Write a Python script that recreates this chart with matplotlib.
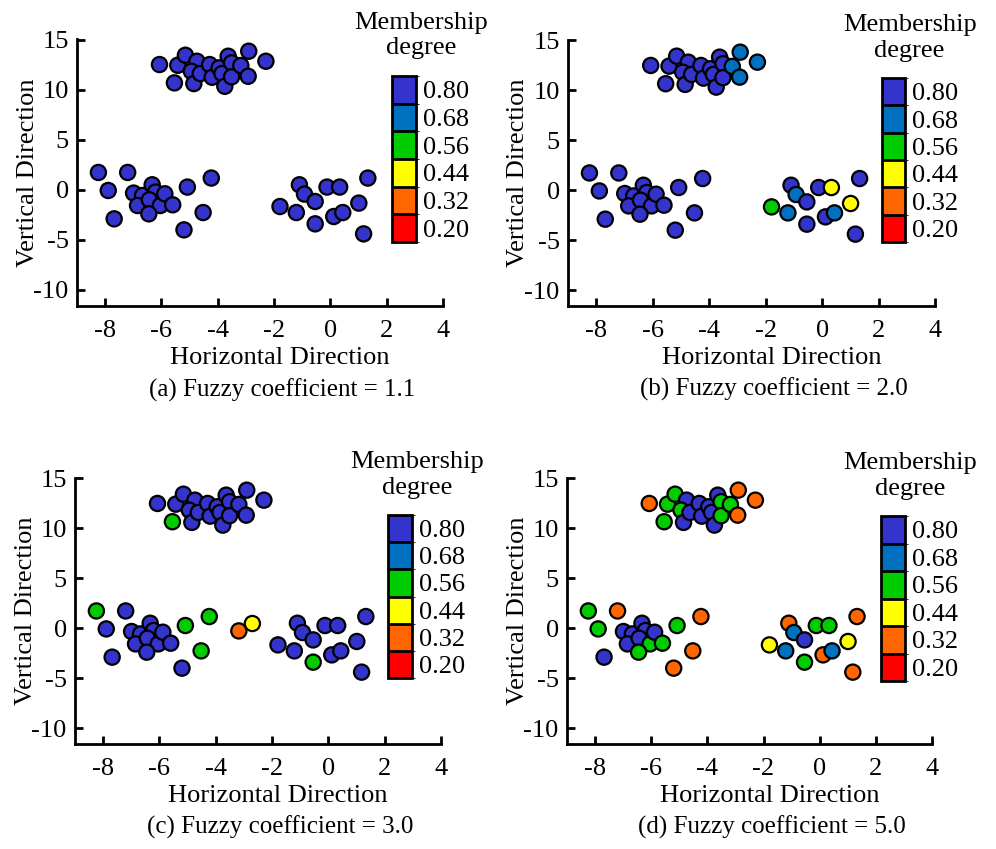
import numpy as np
import matplotlib
matplotlib.use("Agg")
import matplotlib.pyplot as plt
from matplotlib.colors import ListedColormap, BoundaryNorm
from matplotlib.cm import ScalarMappable

plt.rcParams["font.family"] = ["Liberation Serif", "DejaVu Serif"]
plt.rcParams["axes.unicode_minus"] = False

# sample positions (shared by all panels)
top_x = [-6.07, -5.42, -5.15, -4.74, -4.94, -5.54, -4.85, -4.62, -4.29, -4.20,
         -3.95, -3.85, -3.75, -3.63, -3.51, -3.51, -3.18, -2.92, -2.90, -2.29]
top_y = [12.50, 12.43, 13.43, 12.83, 11.83, 10.67, 10.60, 11.60, 12.50, 11.23,
         12.17, 11.60, 10.33, 13.33, 12.67, 11.27, 12.40, 11.33, 13.83, 12.83]
left_x = [-8.24, -7.89, -7.20, -7.68, -6.99, -6.67, -6.85, -6.33, -6.21, -6.43,
          -6.04, -5.88, -5.60, -6.45, -5.08, -4.23, -4.52, -5.20]
left_y = [1.73, -0.07, 1.73, -2.90, -0.33, -0.57, -1.57, 0.50, -0.23, -1.00,
          -1.57, -0.40, -1.50, -2.40, 0.27, 1.17, -2.27, -4.00]
right_x = [-1.79, -1.21, -1.10, -0.92, -0.54, -0.54, -0.12, 0.33, 0.12, 0.44,
           1.01, 1.33, 1.18]
right_y = [-1.67, -2.27, 0.50, -0.43, -1.17, -3.40, 0.27, 0.27, -2.67, -2.27,
           -1.33, 1.17, -4.40]
# two extra samples only shown in panel (c)
extra_x = [-3.18, -2.70]
extra_y = [-0.27, 0.47]

# membership degree per point (top, left, right)
mem_a = [0.80] * 20 + [0.80] * 18 + [0.80] * 13
mem_b = ([0.80] * 16 + [0.68] * 4
         + [0.80] * 18
         + [0.56, 0.68, 0.80, 0.68, 0.80, 0.80, 0.80, 0.44, 0.80, 0.68, 0.44, 0.80, 0.80])
mem_c = ([0.80] * 5 + [0.56] + [0.80] * 14
         + [0.56] + [0.80] * 13 + [0.56, 0.56, 0.56, 0.80]
         + [0.80] * 5 + [0.56] + [0.80] * 7
         + [0.32, 0.44])
mem_d = ([0.32, 0.56, 0.56, 0.80, 0.56, 0.56, 0.80, 0.80, 0.80, 0.80,
          0.80, 0.80, 0.80, 0.80, 0.56, 0.56, 0.56, 0.32, 0.32, 0.32]
         + [0.56, 0.56, 0.32, 0.80, 0.80, 0.80, 0.80, 0.80, 0.80, 0.80,
            0.56, 0.80, 0.56, 0.56, 0.56, 0.32, 0.32, 0.32]
         + [0.44, 0.68, 0.32, 0.68, 0.80, 0.56, 0.56, 0.56, 0.32, 0.68,
            0.44, 0.32, 0.32])

captions = ["(a) Fuzzy coefficient = 1.1", "(b) Fuzzy coefficient = 2.0",
            "(c) Fuzzy coefficient = 3.0", "(d) Fuzzy coefficient = 5.0"]
cbar_ticks = [0.20, 0.32, 0.44, 0.56, 0.68, 0.80]

colors = ["#FF0000", "#FF6600", "#FFFF00", "#00CC00", "#0070C0", "#3434CC"]
cmap = ListedColormap(colors)
norm = BoundaryNorm([0.14, 0.26, 0.38, 0.50, 0.62, 0.74, 0.86], cmap.N)

W, H = 996, 849
FS = 19
fig = plt.figure(figsize=(W / 100, H / 100), dpi=100)


def box(l, t, r, b):
    return [l / W, 1 - b / H, (r - l) / W, (b - t) / H]


ax_boxes = [(77, 39, 443, 306), (568, 40, 935, 306),
            (75, 478, 441, 744), (567, 478, 932, 744)]
cb_boxes = [(392, 76, 416, 242), (882, 78, 905, 242),
            (388, 515, 412, 678), (881, 516, 905, 681)]
mems = [mem_a, mem_b, mem_c, mem_d]

for i in range(4):
    ax = fig.add_axes(box(*ax_boxes[i]))
    xs = top_x + left_x + right_x
    ys = top_y + left_y + right_y
    if i == 2:
        xs = xs + extra_x
        ys = ys + extra_y
    ax.scatter(xs, ys, c=mems[i], cmap=cmap, norm=norm, s=120,
               edgecolors="black", linewidths=1.6, zorder=3, clip_on=False)
    ax.set_xlim(-9, 4)
    ax.set_ylim(-11.6, 15.05)
    ax.set_xticks(np.arange(-8, 5, 2))
    ax.set_yticks(np.arange(-10, 16, 5))
    for s in ["top", "right"]:
        ax.spines[s].set_visible(False)
    for s in ["left", "bottom"]:
        ax.spines[s].set_linewidth(2)
    ax.tick_params(direction="in", length=6, width=2, labelsize=FS)
    ax.tick_params(axis="x", pad=10)
    ax.tick_params(axis="y", pad=6)
    ax.set_xlabel("Horizontal Direction", fontsize=FS)
    ax.set_ylabel("Vertical Direction", fontsize=FS)
    ax.xaxis.set_label_coords(0.555, -0.155)
    ax.yaxis.set_label_coords(-0.105, 0.5)
    ax.text(0.56, -0.315, captions[i], transform=ax.transAxes,
            ha="center", va="center", fontsize=18)

    cax = fig.add_axes(box(*cb_boxes[i]))
    cb = fig.colorbar(ScalarMappable(norm=norm, cmap=cmap), cax=cax,
                      drawedges=True)
    cb.set_ticks(cbar_ticks)
    cb.set_ticklabels(["%.2f" % t for t in cbar_ticks])
    cb.ax.tick_params(length=0, labelsize=FS, pad=5)
    cb.outline.set_linewidth(2)
    cb.dividers.set_linewidth(2)
    cax.text(1.2, 1.1, "Membership\ndegree", transform=cax.transAxes,
             ha="center", va="bottom", fontsize=FS, linespacing=1.2)

fig.savefig("out.png", dpi=100)
